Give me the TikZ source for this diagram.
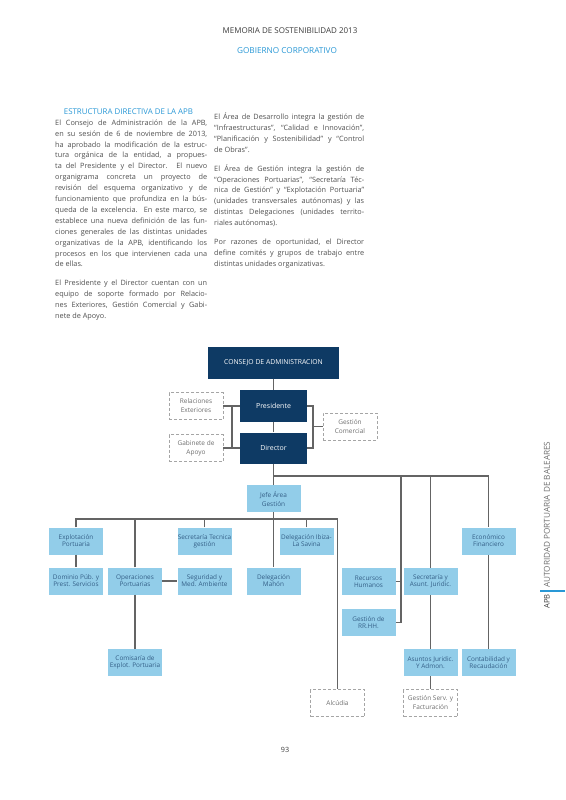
\documentclass[tikz,border=0pt]{standalone}
\usepackage{fontspec}
\setmainfont{Open Sans}
\usetikzlibrary{calc}
\definecolor{navy}{RGB}{14,58,100}
\definecolor{lblue}{RGB}{146,205,233}
\definecolor{ltext}{RGB}{52,95,135}
\definecolor{lncol}{RGB}{100,100,100}
\definecolor{dgray}{RGB}{165,165,165}
\definecolor{dtext}{RGB}{110,110,110}
\definecolor{bodytx}{RGB}{80,80,80}
\definecolor{hdrtx}{RGB}{60,60,60}
\definecolor{hblue}{RGB}{41,152,214}
\newcommand\jl[1]{\makebox[152pt][s]{#1}}
\newcommand\jr[1]{\makebox[150pt][s]{#1}}
\begin{document}
\begin{tikzpicture}[x=1pt,y=-1pt,
  navybox/.style={fill=navy,text=white,inner sep=0pt,align=center,font=\fontsize{7}{8.5}\selectfont},
  lbox/.style={fill=lblue,text=ltext,minimum width=54pt,minimum height=27pt,inner sep=0pt,align=center,font=\fontsize{6.4}{7}\selectfont},
  dbox/.style={draw=dgray,dash pattern=on 3pt off 2pt,line width=0.8pt,text=dtext,minimum width=54pt,minimum height=27pt,inner sep=0pt,align=center,font=\fontsize{6.5}{9}\selectfont},
  wire/.style={draw=lncol,line width=1.3pt},
  bodytext/.style={anchor=north west,inner sep=0pt,align=left,text=bodytx,font=\fontsize{7.3}{10.9}\selectfont}]
\useasboundingbox (0,0) rectangle (565,800);
\fill[white] (0,0) rectangle (565,800);

% header
\node[font=\fontsize{8}{9}\selectfont,text=hdrtx] (h1) at (290,31) {MEMORIA DE SOSTENIBILIDAD 2013};
\node[font=\fontsize{8.2}{9}\selectfont,text=hblue] (h2) at (287,51) {GOBIERNO CORPORATIVO};

% left column
\node[font=\fontsize{7.9}{9}\selectfont,text=hblue] (title) at (128.5,112) {ESTRUCTURA DIRECTIVA DE LA APB};
\node[bodytext] (lcol) at (55,119.5) {%
\jl{El Consejo de Administración de la APB,}\\
\jl{en su sesión de 6 de noviembre de 2013,}\\
\jl{ha aprobado la modificación de la estruc-}\\
\jl{tura orgánica de la entidad, a propues-}\\
\jl{ta del Presidente y el Director. El nuevo}\\
\jl{organigrama concreta un proyecto de}\\
\jl{revisión del esquema organizativo y de}\\
\jl{funcionamiento que profundiza en la bús-}\\
\jl{queda de la excelencia. En este marco, se}\\
\jl{establece una nueva definición de las fun-}\\
\jl{ciones generales de las distintas unidades}\\
\jl{organizativas de la APB, identificando los}\\
\jl{procesos en los que intervienen cada una}\\
de ellas.\\[8pt]
\jl{El Presidente y el Director cuentan con un}\\
\jl{equipo de soporte formado por Relacio-}\\
\jl{nes Exteriores, Gestión Comercial y Gabi-}\\
nete de Apoyo.};

% right column
\node[bodytext] (rcol) at (214,112.5) {%
\jr{El Área de Desarrollo integra la gestión de}\\
\jr{“Infraestructuras”, “Calidad e Innovación”,}\\
\jr{“Planificación y Sostenibilidad” y “Control}\\
de Obras”.\\[8pt]
\jr{El Área de Gestión integra la gestión de}\\
\jr{“Operaciones Portuarias”, “Secretaría Téc-}\\
\jr{nica de Gestión” y “Explotación Portuaria”}\\
\jr{(unidades transversales autónomas) y las}\\
\jr{distintas Delegaciones (unidades territo-}\\
riales autónomas).\\[8pt]
\jr{Por razones de oportunidad, el Director}\\
\jr{define comités y grupos de trabajo entre}\\
distintas unidades organizativas.};

% org chart: top
\node[navybox,minimum width=131pt,minimum height=32pt,font=\fontsize{6.8}{8}\selectfont] (consejo) at (273.5,362.5) {CONSEJO DE ADMINISTRACION};
\node[navybox,minimum width=67pt,minimum height=32pt] (pres) at (273.5,406) {Presidente};
\node[navybox,minimum width=67pt,minimum height=31pt] (dir) at (273.5,448) {Director};
\node[dbox] (relac) at (196,406) {Relaciones\\Exteriores};
\node[dbox] (gabi) at (196,448) {Gabinete de\\Apoyo};
\node[dbox] (gcom) at (350,426.5) {Gestión\\Comercial};

% level boxes
\node[lbox,font=\fontsize{6.5}{9}\selectfont] (jefe) at (273.5,498.5) {Jefe Área\\Gestión};
\node[lbox] (explot) at (76,541) {Explotación\\Portuaria};
\node[lbox] (domin) at (76,581) {Dominio Púb. y\\Prest. Servicios};
\node[lbox] (operac) at (135,581) {Operaciones\\Portuarias};
\node[lbox] (comis) at (135,662.5) {Comisaría de\\Explot. Portuaria};
\node[lbox] (sectec) at (204.5,541) {Secretaría Tecnica\\gestión};
\node[lbox] (segur) at (204.5,581) {Seguridad y\\Med. Ambiente};
\node[lbox] (mahon) at (273.5,581) {Delegación\\Mahón};
\node[lbox] (ibiza) at (306.5,541) {Delegación Ibiza-\\La Savina};
\node[lbox] (rh) at (368.5,581.5) {Recursos\\Humanos};
\node[lbox] (grh) at (368.5,622.5) {Gestión de\\RR.HH.};
\node[lbox] (secas) at (430.5,581.5) {Secretaría y\\Asunt. Juridic.};
\node[lbox] (asunt) at (430.5,662.5) {Asuntos Juridic.\\Y Admon.};
\node[lbox] (econ) at (488.5,541) {Económico\\Financiero};
\node[lbox] (contab) at (488.5,662.5) {Contabilidad y\\Recaudación};
\node[dbox] (alc) at (337.5,703) {Alcúdia};
\node[dbox] (gserv) at (430.5,703) {Gestión Serv. y\\Facturación};

% connectors top
\draw[wire] (consejo) -- (pres);
\draw[wire] (pres) -- (dir);
\draw[wire] (relac) -- (pres);
\draw[wire] (gabi) -- (dir);
\coordinate (lb) at (232,0);
\draw[wire] (relac -| lb) -- (gabi -| lb);
\coordinate (rb) at (313,0);
\draw[wire] (pres.east) -- (pres.east -| rb) -- (dir.east -| rb) -- (dir.east);
\draw[wire] (gcom.west -| rb) -- (gcom.west);

% upper bus
\coordinate (b1) at (0,476);
\draw[wire] (dir) -- (jefe);
\draw[wire] (dir.south |- b1) -| (econ.north);
\draw[wire] (secas.north |- b1) -- (secas.north);
\coordinate (rx) at (401,0);
\draw[wire] (rx |- b1) -- (rx |- grh.east) -- (grh.east);
\draw[wire] (rh.east) -- (rh.east -| rx);
\draw[wire] (secas) -- (asunt);
\draw[wire] (asunt) -- (gserv);
\draw[wire] (econ) -- (contab);

% lower bus
\coordinate (b2) at (0,519);
\draw[wire] (jefe) -- (mahon);
\draw[wire] (explot.north) |- (alc.north |- b2) -- (alc.north);
\draw[wire] (operac.north) -- (operac.north |- b2);
\draw[wire] (sectec.north) -- (sectec.north |- b2);
\draw[wire] (ibiza.north) -- (ibiza.north |- b2);
\draw[wire] (explot) -- (domin);
\draw[wire] (operac) -- (comis);
\draw[wire] (operac) -- (segur);

% side label
\node[rotate=90,anchor=west,inner sep=0pt,font=\fontsize{8.2}{9}\selectfont,text=dtext] (side) at (547,588) {AUTORIDAD PORTUARIA DE BALEARES};
\node[rotate=90,anchor=west,inner sep=0pt,font=\fontsize{7.6}{9}\selectfont,text=hdrtx] (apb) at (547,609) {APB};
\draw[hblue,line width=1.5pt] (540,591) -- (565,591);

% page number
\node[font=\fontsize{7.2}{9}\selectfont,text=hdrtx] (pnum) at (285,750) {93};
\end{tikzpicture}
\end{document}
